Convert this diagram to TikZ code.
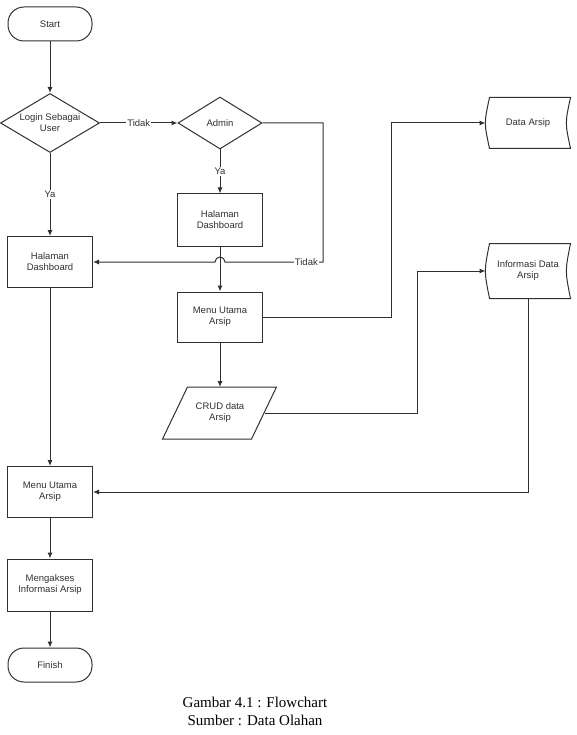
\documentclass[tikz,border=0pt]{standalone}
\usepackage{fontspec}
\setmainfont{Liberation Sans}
\newfontfamily\capfont{Liberation Serif}
\usetikzlibrary{shapes.geometric,arrows.meta}
\definecolor{ink}{HTML}{303030}
\tikzset{
  base/.style={draw=ink, text=ink, line width=1pt, align=center,
    font=\fontsize{9.5}{11}\selectfont},
  term/.style={base, rectangle, rounded corners=16pt,
    minimum width=84pt, minimum height=34pt},
  proc/.style={base, rectangle, minimum width=85pt, minimum height=51pt},
  decision/.style={base, diamond, aspect=1.68, inner sep=0pt},
  io/.style={base, draw=none, minimum width=88pt, minimum height=51pt},
  store/.style={base, draw=none, minimum width=84pt, minimum height=50pt},
  outline/.style={draw=ink, line width=1pt},
  flow/.style={draw=ink, line width=1pt, -{Latex[length=6pt,width=5pt]}},
  lbl/.style={fill=white, text=ink, inner sep=1pt,
    font=\fontsize{9.5}{11}\selectfont}
}

\begin{document}
\begin{tikzpicture}
    \useasboundingbox (0pt, 0pt) rectangle (576pt, -735pt);

    % left column
    \node (start) at (50pt, -24pt) [term] {Start};
    \node (login) at (50pt, -123pt) [decision, minimum width=99pt,
        minimum height=59pt] {Login Sebagai\\User};
    \node (dashA) at (50pt, -262pt) [proc] {Halaman\\Dashboard};
    \node (menuA) at (50pt, -492pt) [proc] {Menu Utama\\Arsip};
    \node (akses) at (50pt, -585pt) [proc, minimum height=52pt]
        {Mengakses\\Informasi Arsip};
    \node (finish) at (50pt, -665pt) [term] {Finish};

    % admin column
    \node (admin) at (220pt, -123pt) [decision, minimum width=84pt,
        minimum height=52pt] {Admin};
    \node (dashB) at (220pt, -220pt) [proc, minimum height=52pt]
        {Halaman\\Dashboard};
    \node (menuB) at (220pt, -317pt) [proc, minimum height=50pt]
        {Menu Utama\\Arsip};
    \node (crud) at (220pt, -413pt) [io] {CRUD data\\Arsip};

    \draw[outline] ([xshift=-13pt]crud.south west) -- ([xshift=-13pt]crud.south east)
        -- ([xshift=12pt]crud.north east) -- ([xshift=12pt]crud.north west) -- cycle;

    % stored data
    \node (data) at (528pt, -123pt) [store] {Data Arsip};
    \node (info) at (528pt, -271pt) [store, minimum height=54pt]
        {Informasi Data\\Arsip};

    \draw[outline] ([xshift=4pt]data.north west) -- (data.north east)
        .. controls ([xshift=-5.5pt]data.east) .. (data.south east)
        -- ([xshift=4pt]data.south west)
        .. controls ([xshift=-1.5pt]data.west) .. cycle;
    \draw[outline] ([xshift=4pt]info.north west) -- (info.north east)
        .. controls ([xshift=-5.5pt]info.east) .. (info.south east)
        -- ([xshift=4pt]info.south west)
        .. controls ([xshift=-1.5pt]info.west) .. cycle;

    \coordinate (tbend) at (323pt, -262pt);
    \coordinate (hop) at (225pt, -262pt);
    \coordinate (dbend) at (391pt, -317pt);
    \coordinate (ibend) at (417pt, -413pt);

    \draw (start) edge[flow] (login);
    \draw (login) edge[flow] node[lbl] {Ya} (dashA);
    \draw (login) edge[flow] node[lbl] {Tidak} (admin);
    \draw (admin) edge[flow] node[lbl] {Ya} (dashB);
    \draw (dashB) edge[flow] (menuB);
    \draw (menuB) edge[flow] (crud.north);
    \draw (dashA) edge[flow] (menuA);
    \draw (menuA) edge[flow] (akses);
    \draw (akses) edge[flow] (finish);

    \draw[flow] (admin.east) -| (tbend)
        -- node[lbl, pos=0.17] {Tidak} (hop)
        arc[start angle=0, end angle=180, radius=5pt] -- (dashA.east);
    \draw[flow] (menuB.east) -- (dbend) |- (data.west);
    \draw[flow] (crud.east) -- (ibend) |- (info.west);
    \draw[flow] (info.south) |- (menuA.east);

    \node (cap) at (255pt, -711pt) [align=center,
        font=\capfont\fontsize{15}{18}\selectfont]
        {Gambar 4.1 : Flowchart\\Sumber : Data Olahan};
\end{tikzpicture}
\end{document}
